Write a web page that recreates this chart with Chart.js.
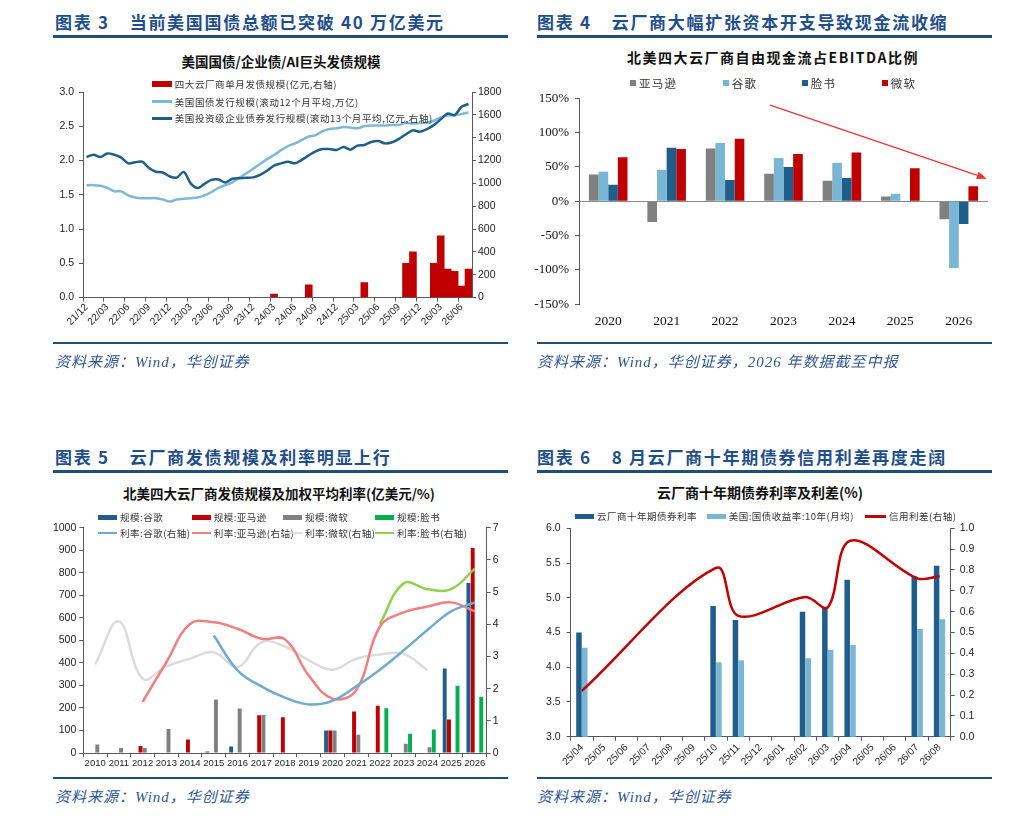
<!DOCTYPE html>
<html lang="zh-CN">
<head>
<meta charset="utf-8">
<title>云厂商发债与现金流</title>
<script src="https://cdn.jsdelivr.net/npm/chart.js@4.4.1/dist/chart.umd.min.js"></script>
<style>
body { margin:0; background:#fff; width:1024px; height:828px; position:relative; overflow:hidden; font-family:"Noto Sans CJK SC", sans-serif; }
.head { position:absolute; font-weight:bold; font-size:17px; line-height:22px; color:#1f4e8a; letter-spacing:1.7px; white-space:nowrap; }
.head .gap { display:inline-block; width:20px; }
.rule { position:absolute; height:2.5px; background:#1f4e79; }
.src { position:absolute; font-family:"Liberation Serif","Noto Sans CJK SC",serif; font-style:italic; font-size:15px; line-height:20px; color:#2f5592; letter-spacing:1px; white-space:nowrap; }
.ctitle { position:absolute; font-weight:bold; font-size:13.5px; line-height:18px; color:#111; white-space:nowrap; transform:translateX(-50%); }
canvas { position:absolute; }
.lg { position:absolute; display:flex; align-items:center; height:14px; transform:translateY(-50%); color:#333; white-space:nowrap; }
.lg .sw { display:inline-block; margin-right:3px; flex:none; }
</style>
</head>
<body>

<div class="head" style="left:55px;top:10.7px">图表 3<span class="gap"></span>当前美国国债总额已突破 40 万亿美元</div>
<div class="rule" style="left:53px;top:35px;width:455px"></div>
<div class="head" style="left:537px;top:10.7px">图表 4<span class="gap"></span>云厂商大幅扩张资本开支导致现金流收缩</div>
<div class="rule" style="left:537px;top:35px;width:455px"></div>

<div class="ctitle" style="left:281px;top:51.7px">美国国债/企业债/AI巨头发债规模</div>
<div class="ctitle" style="left:773px;top:47.7px;font-size:14px;letter-spacing:1.5px">北美四大云厂商自由现金流占EBITDA比例</div>

<canvas id="c3" width="480" height="275" style="left:40px;top:70px"></canvas>
<canvas id="c4" width="480" height="270" style="left:525px;top:70px"></canvas>

<div class="rule" style="left:53px;top:341.5px;width:455px;height:2px"></div>
<div class="src" style="left:55px;top:351.7px">资料来源：Wind，华创证券</div>
<div class="rule" style="left:537px;top:341.5px;width:455px;height:2px"></div>
<div class="src" style="left:537px;top:351.7px">资料来源：Wind，华创证券，2026 年数据截至中报</div>

<div class="head" style="left:55px;top:445.7px">图表 5<span class="gap"></span>云厂商发债规模及利率明显上行</div>
<div class="rule" style="left:53px;top:470px;width:455px"></div>
<div class="head" style="left:537px;top:445.7px">图表 6<span class="gap"></span>8 月云厂商十年期债券信用利差再度走阔</div>
<div class="rule" style="left:537px;top:470px;width:455px"></div>

<div class="ctitle" style="left:279px;top:484px">北美四大云厂商发债规模及加权平均利率(亿美元/%)</div>
<div class="ctitle" style="left:760px;top:482.7px;font-size:14px">云厂商十年期债券利率及利差(%)</div>

<canvas id="c5" width="470" height="260" style="left:40px;top:515px"></canvas>
<canvas id="c6" width="485" height="260" style="left:525px;top:515px"></canvas>

<div class="rule" style="left:53px;top:776.5px;width:455px;height:2px"></div>
<div class="src" style="left:55px;top:786.7px">资料来源：Wind，华创证券</div>
<div class="rule" style="left:537px;top:776.5px;width:455px;height:2px"></div>
<div class="src" style="left:537px;top:786.7px">资料来源：Wind，华创证券</div>

<script>
// ---- 图表3: 月度, 21/12 - 26/07
var monthLabels = ['21/12','22/01','22/02','22/03','22/04','22/05','22/06','22/07','22/08','22/09','22/10','22/11',
  '22/12','23/01','23/02','23/03','23/04','23/05','23/06','23/07','23/08','23/09','23/10','23/11',
  '23/12','24/01','24/02','24/03','24/04','24/05','24/06','24/07','24/08','24/09','24/10','24/11',
  '24/12','25/01','25/02','25/03','25/04','25/05','25/06','25/07','25/08','25/09','25/10','25/11',
  '25/12','26/01','26/02','26/03','26/04','26/05','26/06','26/07'];
// 四大云厂商单月发债规模(亿元, 右轴)
var cloudMonthly = [null,null,null,null,null,null,null,null,null,null,null,null,
  null,null,null,null,null,null,null,null,null,null,null,null,
  null,null,null,30,null,null,null,null,110,null,null,null,
  null,null,null,null,130,null,null,null,null,null,300,400,
  null,null,300,540,250,230,100,250];
// 美国国债发行规模(滚动12个月平均, 万亿)
var treasuryIssue = [1.64,1.64,1.63,1.60,1.55,1.55,1.49,1.46,1.45,1.45,1.45,1.43,
  1.40,1.43,1.44,1.45,1.46,1.49,1.54,1.60,1.64,1.68,1.75,1.81,
  1.88,1.95,2.02,2.08,2.15,2.21,2.25,2.30,2.35,2.37,2.43,2.46,
  2.47,2.49,2.48,2.47,2.50,2.51,2.51,2.51,2.52,2.52,2.55,2.54,
  2.55,2.55,2.58,2.63,2.66,2.66,2.68,2.70];
// 美国投资级企业债券发行规模(滚动13个月平均, 亿元, 右轴)
var corpIssue = [1230,1250,1230,1262,1250,1225,1175,1185,1190,1135,1102,1095,
  1060,1050,1100,1000,960,995,1030,1033,1008,1040,1045,1048,
  1052,1075,1110,1155,1175,1190,1175,1205,1245,1280,1300,1300,
  1292,1318,1295,1330,1336,1362,1370,1350,1360,1390,1430,1465,
  1452,1475,1510,1560,1612,1598,1670,1695];

// ---- 图表4: 自由现金流/EBITDA (%)
var fcfYears = ['2020','2021','2022','2023','2024','2025','2026'];
var fcfAmazon = [39,-30,77,40,30,7,-26];
var fcfGoogle = [43,46,85,63,56,11,-97];
var fcfMeta = [24,78,31,50,34,-1,-33];
var fcfMsft = [64,76,91,69,71,48,22];
var trendFrom = [2.77, 140];
var trendTo = [6.48, 33];

// ---- 图表5: 年度发债规模(亿美元) 与 加权平均利率(%)
var debtYears = ['2010','2011','2012','2013','2014','2015','2016','2017','2018','2019','2020','2021','2022','2023','2024','2025','2026'];
var sizeGoogle = [null,null,null,null,null,7,29,null,null,null,100,null,null,null,null,375,754];
var sizeAmazon = [null,null,31,null,60,null,null,168,159,null,100,184,210,null,null,149,910];
var sizeMsft = [38,22,22,106,null,237,197,169,null,null,100,81,null,41,25,null,null];
var sizeMeta = [null,null,null,null,null,null,null,null,null,null,null,null,199,85,104,299,250];
var rateGoogle = [null,null,null,null,null,3.65,2.57,2.07,1.72,1.51,1.62,2.07,2.59,3.19,3.82,4.40,4.68];
var rateAmazon = [null,null,1.59,2.82,4.01,4.06,3.86,3.55,3.53,2.41,1.69,1.95,3.93,4.37,4.55,4.68,4.40];
var rateMsft = [2.75,4.09,2.31,2.69,2.93,3.13,2.67,3.44,3.31,2.88,2.59,2.93,3.06,3.08,2.57,null,null];
var rateMeta = [null,null,null,null,null,null,null,null,null,null,null,null,4.01,5.27,5.09,5.09,5.73];

// ---- 图表6: 十年期利率(%) 与 信用利差(%, 右轴)
var spreadMonths = ['25/04','25/05','25/06','25/07','25/08','25/09','25/10','25/11','25/12','26/01','26/02','26/03','26/04','26/05','26/06','26/07','26/08'];
var cloud10y = [4.50,null,null,null,null,null,4.88,4.68,null,null,4.80,4.87,5.26,null,null,5.31,5.46];
var ust10y = [4.28,null,null,null,null,null,4.07,4.10,null,null,4.13,4.25,4.32,null,null,4.55,4.69];
var creditSpread = [0.22,null,null,null,null,null,0.81,0.58,null,null,0.67,0.62,0.94,null,null,0.76,0.77];

Chart.defaults.font.family = '"Liberation Sans", Arial, sans-serif';
Chart.defaults.font.size = 10;
Chart.defaults.color = '#222';
Chart.defaults.animation = false;
Chart.defaults.responsive = false;
Chart.defaults.plugins.legend.display = false;
Chart.defaults.plugins.tooltip.enabled = false;

var AXIS = '#595959';
function fixW(w) { return function (axis) { axis.width = w; }; }
function fixH(h) { return function (axis) { axis.height = h; }; }
function plain(v) { return String(v); }
function oneDec(v) { return v.toFixed(1); }
function sideAxis(pos, w, extra) {
  var a = {
    position: pos,
    grid: { drawOnChartArea: false, tickLength: 4, color: AXIS },
    border: { display: true, color: AXIS },
    afterFit: fixW(w)
  };
  for (var k in extra) a[k] = extra[k];
  return a;
}

function addLegend(chart, spots, opt) {
  chart.data.datasets.forEach(function (ds, i) {
    var box = document.createElement('div');
    box.className = 'lg';
    box.style.left = spots[i][0] + 'px';
    box.style.top = spots[i][1] + 'px';
    box.style.fontSize = opt.font + 'px';
    if (opt.spacing) box.style.letterSpacing = opt.spacing + 'px';
    var sw = document.createElement('span');
    sw.className = 'sw';
    var isLine = ds.type === 'line';
    sw.style.width = (isLine ? opt.lineW : opt.boxW) + 'px';
    sw.style.height = (isLine ? opt.lineH : opt.boxH) + 'px';
    sw.style.background = isLine ? ds.borderColor : ds.backgroundColor;
    box.appendChild(sw);
    box.appendChild(document.createTextNode(ds.label));
    document.body.appendChild(box);
  });
}

// 图表3
var c3 = new Chart(document.getElementById('c3'), {
  type: 'bar',
  data: {
    labels: monthLabels,
    datasets: [
      { label: '四大云厂商单月发债规模(亿元,右轴)', data: cloudMonthly, yAxisID: 'y1',
        backgroundColor: '#c00000', barPercentage: 1, categoryPercentage: 1, order: 3 },
      { type: 'line', label: '美国国债发行规模(滚动12个月平均,万亿)', data: treasuryIssue, yAxisID: 'y',
        borderColor: '#7db8d7', borderWidth: 2.5, pointRadius: 0, tension: 0.3, order: 2 },
      { type: 'line', label: '美国投资级企业债券发行规模(滚动13个月平均,亿元,右轴)', data: corpIssue, yAxisID: 'y1',
        borderColor: '#1d5f88', borderWidth: 2.5, pointRadius: 0, tension: 0.3, order: 1 }
    ]
  },
  options: {
    layout: { padding: { top: 22 } },
    scales: {
      x: {
        grid: { drawOnChartArea: false, tickLength: 4,
          color: function (c) { return c.index % 3 === 0 ? AXIS : 'rgba(0,0,0,0)'; } },
        border: { display: true, color: AXIS },
        ticks: { autoSkip: false, minRotation: 45, maxRotation: 45, padding: 0, font: { size: 10 },
          callback: function (v, i) { return i % 3 === 0 ? monthLabels[i] : ''; } },
        afterFit: fixH(47.5)
      },
      y: sideAxis('left', 43, { min: 0, max: 3,
        ticks: { stepSize: 0.5, padding: 5, font: { size: 10.5 }, callback: oneDec } }),
      y1: sideAxis('right', 48, { min: 0, max: 1800,
        ticks: { stepSize: 200, padding: 2, font: { size: 10.5 }, callback: plain } })
    }
  }
});
addLegend(c3, [[151.7, 84.3], [151.7, 101.7], [151.7, 118.3]],
  { font: 9.5, spacing: 0.6, boxW: 20, boxH: 6, lineW: 20, lineH: 3 });

// 图表4
var trendArrow = {
  id: 'trendArrow',
  afterDatasetsDraw: function (chart) {
    var x = chart.scales.x, y = chart.scales.y, ctx = chart.ctx;
    var x0 = x.getPixelForValue(trendFrom[0]), y0 = y.getPixelForValue(trendFrom[1]);
    var x1 = x.getPixelForValue(trendTo[0]), y1 = y.getPixelForValue(trendTo[1]);
    var ang = Math.atan2(y1 - y0, x1 - x0), len = 10, half = 3.8;
    var bx = x1 - len * Math.cos(ang), by = y1 - len * Math.sin(ang);
    ctx.save();
    ctx.strokeStyle = '#f03030';
    ctx.fillStyle = '#f03030';
    ctx.lineWidth = 1.2;
    ctx.beginPath();
    ctx.moveTo(x0, y0);
    ctx.lineTo(bx, by);
    ctx.stroke();
    ctx.beginPath();
    ctx.moveTo(x1, y1);
    ctx.lineTo(bx + half * Math.sin(ang), by - half * Math.cos(ang));
    ctx.lineTo(bx - half * Math.sin(ang), by + half * Math.cos(ang));
    ctx.closePath();
    ctx.fill();
    ctx.restore();
  }
};
var fcfBar = { barPercentage: 1, categoryPercentage: 0.66 };
var c4 = new Chart(document.getElementById('c4'), {
  type: 'bar',
  data: {
    labels: fcfYears,
    datasets: [
      Object.assign({ label: '亚马逊', data: fcfAmazon, backgroundColor: '#808080' }, fcfBar),
      Object.assign({ label: '谷歌', data: fcfGoogle, backgroundColor: '#79b6d4' }, fcfBar),
      Object.assign({ label: '脸书', data: fcfMeta, backgroundColor: '#1f5e8a' }, fcfBar),
      Object.assign({ label: '微软', data: fcfMsft, backgroundColor: '#c00000' }, fcfBar)
    ]
  },
  options: {
    layout: { padding: { top: 28.3, right: 17 } },
    scales: {
      x: {
        grid: { display: false, drawTicks: false },
        border: { display: false },
        ticks: { padding: 9, font: { family: '"Liberation Serif", serif', size: 13.5 }, color: '#111' },
        afterFit: fixH(35.7)
      },
      y: {
        min: -150, max: 150,
        grid: { tickLength: 4, tickColor: AXIS,
          color: function (c) { return c.tick && c.tick.value === 0 ? '#8c8c8c' : 'rgba(0,0,0,0)'; } },
        border: { display: true, color: AXIS },
        ticks: { stepSize: 50, padding: 6, font: { family: '"Liberation Serif", serif', size: 13 }, color: '#111',
          callback: function (v) { return v + '%'; } },
        afterFit: fixW(54)
      }
    }
  },
  plugins: [trendArrow]
});
addLegend(c4, [[630, 83.3], [722.7, 83.3], [801.7, 83.3], [881.7, 83.3]],
  { font: 11.5, spacing: 1.2, boxW: 6, boxH: 6, lineW: 6, lineH: 6 });

// 图表5
var sizeBar = { barPercentage: 0.92, categoryPercentage: 0.72, yAxisID: 'y', order: 2 };
var rateLine = { type: 'line', yAxisID: 'y1', borderWidth: 2.5, pointRadius: 0, tension: 0.4, order: 1 };
var c5 = new Chart(document.getElementById('c5'), {
  type: 'bar',
  data: {
    labels: debtYears,
    datasets: [
      Object.assign({ label: '规模:谷歌', data: sizeGoogle, backgroundColor: '#215e8a' }, sizeBar),
      Object.assign({ label: '规模:亚马逊', data: sizeAmazon, backgroundColor: '#c00000' }, sizeBar),
      Object.assign({ label: '规模:微软', data: sizeMsft, backgroundColor: '#808080' }, sizeBar),
      Object.assign({ label: '规模:脸书', data: sizeMeta, backgroundColor: '#00b050' }, sizeBar),
      Object.assign({ label: '利率:谷歌(右轴)', data: rateGoogle, borderColor: '#6eaccf' }, rateLine),
      Object.assign({ label: '利率:亚马逊(右轴)', data: rateAmazon, borderColor: '#f27f7f' }, rateLine),
      Object.assign({ label: '利率:微软(右轴)', data: rateMsft, borderColor: '#dcdcdc' }, rateLine),
      Object.assign({ label: '利率:脸书(右轴)', data: rateMeta, borderColor: '#8fd14f' }, rateLine)
    ]
  },
  options: {
    layout: { padding: { top: 12.7 } },
    scales: {
      x: {
        grid: { drawOnChartArea: false, tickLength: 4, color: AXIS },
        border: { display: true, color: AXIS },
        ticks: { padding: 1, font: { size: 9.5 }, maxRotation: 0, autoSkip: false },
        afterFit: fixH(22)
      },
      y: sideAxis('left', 43.3, { min: 0, max: 1000,
        ticks: { stepSize: 100, padding: 3, font: { size: 10.5 }, callback: plain } }),
      y1: sideAxis('right', 23.3, { min: 0, max: 7,
        ticks: { stepSize: 1, padding: 2, font: { size: 10.5 }, callback: plain } })
    }
  }
});
addLegend(c5, [[98, 517], [191.7, 517], [283, 517], [375, 517], [98, 533], [191.7, 533], [283, 533], [375, 533]],
  { font: 9.5, spacing: 0.5, boxW: 19, boxH: 5, lineW: 19, lineH: 2.5 });

// 图表6
var rateBar = { barPercentage: 0.95, categoryPercentage: 0.52, yAxisID: 'y', order: 2 };
var c6 = new Chart(document.getElementById('c6'), {
  type: 'bar',
  data: {
    labels: spreadMonths,
    datasets: [
      Object.assign({ label: '云厂商十年期债券利率', data: cloud10y, backgroundColor: '#1f5e8a' }, rateBar),
      Object.assign({ label: '美国:国债收益率:10年(月均)', data: ust10y, backgroundColor: '#7ab6d3' }, rateBar),
      { type: 'line', label: '信用利差(右轴)', data: creditSpread, yAxisID: 'y1', borderColor: '#c00000',
        borderWidth: 2.5, pointRadius: 0, tension: 0.35, spanGaps: true, order: 1 }
    ]
  },
  options: {
    layout: { padding: { top: 13.3 } },
    scales: {
      x: {
        grid: { drawOnChartArea: false, tickLength: 4, color: AXIS },
        border: { display: true, color: AXIS },
        ticks: { autoSkip: false, minRotation: 45, maxRotation: 45, padding: 1, font: { size: 10 } },
        afterFit: fixH(38.3)
      },
      y: sideAxis('left', 45.7, { min: 3, max: 6,
        ticks: { stepSize: 0.5, padding: 6, font: { size: 10.5 }, callback: oneDec } }),
      y1: sideAxis('right', 59.3, { min: 0, max: 1,
        ticks: { stepSize: 0.1, padding: 5, font: { size: 10.5 }, callback: oneDec } })
    }
  }
});
addLegend(c6, [[575, 516], [706.7, 516], [865, 516]],
  { font: 9.5, spacing: 0.5, boxW: 19, boxH: 5, lineW: 21, lineH: 3 });
</script>
</body>
</html>
